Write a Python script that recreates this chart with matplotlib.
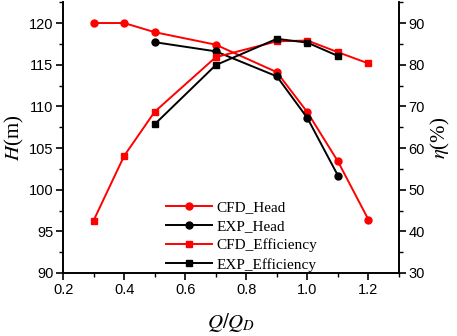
import numpy as np
import matplotlib
matplotlib.use('Agg')
import matplotlib.pyplot as plt
from matplotlib.ticker import MultipleLocator

# data
q_cfd = [0.3, 0.4, 0.5, 0.7, 0.9, 1.0, 1.1, 1.2]
q_exp = [0.5, 0.7, 0.9, 1.0, 1.1]
head_cfd = [120.0, 120.0, 118.9, 117.4, 114.1, 109.3, 103.4, 96.4]
head_exp = [117.7, 116.6, 113.6, 108.6, 101.7]
eff_cfd = [42.6, 58.1, 68.7, 81.8, 85.6, 85.8, 83.0, 80.3]
eff_exp = [65.7, 79.9, 86.2, 85.3, 82.1]

plt.rcParams['font.family'] = ['Liberation Sans', 'DejaVu Sans']
plt.rcParams['mathtext.fontset'] = 'stix'

fig = plt.figure(figsize=(4.57, 3.36), dpi=100)
ax = fig.add_axes([0.138, 0.1875, 0.735, 0.806])
ax2 = ax.twinx()

l1, = ax.plot(q_cfd, head_cfd, '-o', color='red', lw=1.4, ms=5, label='CFD_Head')
l2, = ax.plot(q_exp, head_exp, '-o', color='black', lw=1.4, ms=5, label='EXP_Head')
l3, = ax2.plot(q_cfd, eff_cfd, '-s', color='red', lw=1.4, ms=5, label='CFD_Efficiency')
l4, = ax2.plot(q_exp, eff_exp, '-s', color='black', lw=1.4, ms=5, label='EXP_Efficiency')

ax.set_xlim(0.2, 1.3)
ax.set_ylim(90, 122.5)
ax2.set_ylim(30, 95)
ax.set_xticks([0.2, 0.4, 0.6, 0.8, 1.0, 1.2])
ax.xaxis.set_minor_locator(MultipleLocator(0.1))
ax.set_yticks([90, 95, 100, 105, 110, 115, 120])
ax.yaxis.set_minor_locator(MultipleLocator(2.5))
ax2.set_yticks([30, 40, 50, 60, 70, 80, 90])
ax2.yaxis.set_minor_locator(MultipleLocator(5))

for a in (ax, ax2):
    a.spines['top'].set_visible(False)
    for s in a.spines.values():
        s.set_linewidth(1.2)
    a.tick_params(which='major', direction='out', length=5, width=1.2, labelsize=10.5, pad=2)
    a.tick_params(which='minor', direction='out', length=3, width=1.0)

ax.set_xlabel('$Q/Q_D$', fontsize=15, family='Liberation Serif')
ax.xaxis.set_label_coords(0.5, -0.14)
ax.set_ylabel('$H$(m)', fontsize=15, family='Liberation Serif')
ax.yaxis.set_label_coords(-0.11, 0.5)
ax2.set_ylabel('$\\eta$(%)', fontsize=15, family='Liberation Serif', rotation=90)
ax2.yaxis.set_label_coords(1.09, 0.5)

ax2.legend(handles=[l1, l2, l3, l4], loc='upper left', bbox_to_anchor=(0.265, 0.318),
           frameon=False, handlelength=3, labelspacing=0.35, handletextpad=0.3,
           prop={'family': 'Liberation Serif', 'size': 11})

fig.savefig('out.png', dpi=100)
